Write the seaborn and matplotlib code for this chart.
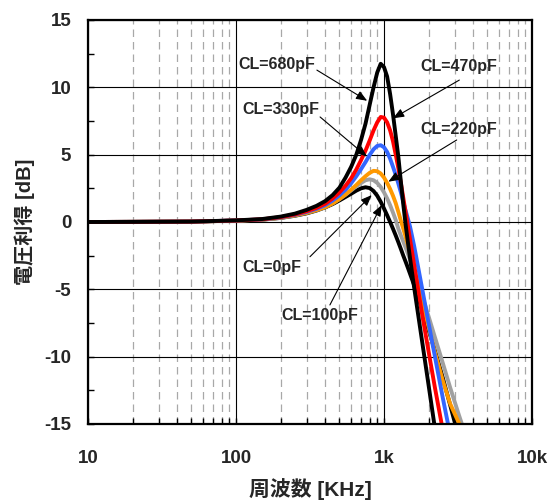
import matplotlib
matplotlib.use("Agg")
import matplotlib.pyplot as plt
from matplotlib.ticker import FixedLocator, NullFormatter
import pandas as pd
import seaborn as sns

# Frequency points (Hz) shared by all curves
freq_hz = [10, 20, 50, 100, 150, 200, 250, 300, 350, 400, 450, 500, 550, 600,
           650, 700, 750, 800, 850, 900, 950, 1000, 1050, 1100, 1150, 1200,
           1250, 1300, 1350, 1400, 1450, 1500, 1600, 1800, 2000, 2200, 2500,
           2800, 3200, 3600]

# Voltage gain (dB) for each load capacitance
gain_0pf = [0.0, 0.01, 0.03, 0.10, 0.17, 0.30, 0.46, 0.64, 0.85, 1.08, 1.33,
            1.60, 1.86, 2.10, 2.33, 2.50, 2.58, 2.52, 2.30, 1.95, 1.50, 1.00,
            0.50, 0.00, -0.50, -1.00, -1.50, -2.00, -2.50, -2.95, -3.40,
            -3.85, -4.70, -6.40, -8.00, -9.50, -11.60, -13.60, -16.00, -18.00]
gain_100pf = [0.0, 0.01, 0.03, 0.10, 0.18, 0.32, 0.49, 0.68, 0.88, 1.10, 1.38,
              1.70, 2.02, 2.35, 2.65, 2.90, 3.10, 3.17, 3.10, 2.90, 2.60,
              2.20, 1.75, 1.25, 0.70, 0.15, -0.50, -1.00, -1.45, -1.90, -2.35,
              -2.80, -3.70, -5.40, -7.00, -8.50, -10.50, -12.30, -14.30, -16.00]
gain_220pf = [0.0, 0.01, 0.03, 0.10, 0.18, 0.32, 0.49, 0.68, 0.88, 1.10, 1.38,
              1.70, 2.05, 2.40, 2.75, 3.10, 3.40, 3.65, 3.80, 3.77, 3.60,
              3.30, 2.90, 2.45, 1.95, 1.40, 0.75, 0.10, -0.50, -1.10, -1.70,
              -2.30, -3.50, -5.80, -7.80, -9.60, -11.80, -13.50, -14.90, -16.80]
gain_330pf = [0.0, 0.01, 0.03, 0.11, 0.19, 0.34, 0.53, 0.75, 0.98, 1.25, 1.60,
              1.98, 2.40, 2.88, 3.40, 3.93, 4.45, 4.98, 5.40, 5.65, 5.70,
              5.55, 5.20, 4.70, 4.10, 3.50, 2.85, 2.20, 1.50, 0.85, 0.25,
              -0.35, -1.80, -4.80, -7.50, -9.90, -13.10, -15.80, -19.00, -22.00]
gain_470pf = [0.0, 0.01, 0.03, 0.11, 0.20, 0.36, 0.56, 0.80, 1.05, 1.35, 1.75,
              2.20, 2.70, 3.25, 3.90, 4.60, 5.30, 6.05, 6.80, 7.40, 7.80,
              7.75, 7.40, 6.80, 6.00, 5.00, 4.00, 2.90, 1.80, 0.70, -0.30,
              -1.30, -3.20, -6.70, -9.60, -12.20, -15.50, -18.50, -22.00, -25.00]
gain_680pf = [0.0, 0.01, 0.03, 0.12, 0.22, 0.40, 0.62, 0.90, 1.20, 1.55, 2.00,
              2.55, 3.30, 4.10, 5.00, 6.10, 7.30, 8.70, 10.00, 11.10, 11.75,
              11.50, 10.80, 9.50, 8.00, 6.40, 4.85, 3.00, 1.30, -0.20, -1.50,
              -2.70, -4.90, -8.70, -12.10, -15.20, -19.00, -22.00, -25.00, -28.00]

series_labels = ["CL=0pF", "CL=100pF", "CL=220pF", "CL=330pF", "CL=470pF", "CL=680pF"]
series_gains = [gain_0pf, gain_100pf, gain_220pf, gain_330pf, gain_470pf, gain_680pf]
line_colors = ["#000000", "#a0a0a0", "#ff9900", "#3366ff", "#ff0000", "#000000"]

x_ticks = [10, 100, 1000, 10000]
x_tick_labels = ["10", "100", "1k", "10k"]
x_minor = [m * d for d in (10, 100, 1000) for m in range(2, 10)]
y_ticks = [-15, -10, -5, 0, 5, 10, 15]
y_minor = [-12.5, -7.5, -2.5, 2.5, 7.5, 12.5]

x_title = "周波数 [KHz]"
y_title = "電圧利得 [dB]"

# Callouts: label, text position, arrow start, arrow tip (Hz, dB)
callouts = [
    ("CL=680pF", (188, 11.73), (352, 11.28), (770, 9.0)),
    ("CL=330pF", (201, 8.39), (370, 7.80), (768, 4.85)),
    ("CL=470pF", (3199, 11.53), (3229, 10.54), (1150, 7.70)),
    ("CL=220pF", (3199, 6.88), (3098, 6.09), (1069, 2.99)),
    ("CL=0pF", (174, -3.41), (316, -2.58), (826, 2.00)),
    ("CL=100pF", (370, -6.96), (431, -6.16), (964, 1.26)),
]

rows = []
for label, gains in zip(series_labels, series_gains):
    for f, g in zip(freq_hz, gains):
        rows.append({"freq": f, "gain": g, "load": label})
df = pd.DataFrame(rows)

sns.set_theme(style="white")
plt.rcParams["font.family"] = ["Liberation Sans", "Noto Sans CJK JP"]
plt.rcParams["font.weight"] = "bold"

fig = plt.figure(figsize=(5.51, 5.01), dpi=100)
ax = fig.add_axes([88 / 551, 1 - 424 / 501, (532 - 88) / 551, (424 - 20) / 501])

sns.lineplot(data=df, x="freq", y="gain", hue="load", hue_order=series_labels,
             palette=dict(zip(series_labels, line_colors)), linewidth=2.8,
             estimator=None, sort=False, legend=False, ax=ax)

ax.set_xscale("log")
ax.set_xlim(10, 10000)
ax.set_ylim(-15, 15)

ax.xaxis.set_major_locator(FixedLocator(x_ticks))
ax.set_xticklabels(x_tick_labels)
ax.xaxis.set_minor_locator(FixedLocator(x_minor))
ax.xaxis.set_minor_formatter(NullFormatter())
ax.yaxis.set_major_locator(FixedLocator(y_ticks))
ax.set_yticklabels([str(v) for v in y_ticks])
ax.yaxis.set_minor_locator(FixedLocator(y_minor))
ax.yaxis.set_minor_formatter(NullFormatter())

ax.set_axisbelow(True)
ax.grid(which="major", color="black", linewidth=0.8)
ax.grid(which="minor", axis="x", color="#a8a8a8", linewidth=0.9, linestyle=(0, (6, 4)))

ax.tick_params(which="major", direction="in", length=4, width=1, labelsize=13.5,
               color="black", left=True, bottom=True)
ax.tick_params(axis="y", which="major", pad=12)
ax.tick_params(axis="x", which="major", pad=19)
ax.tick_params(which="minor", direction="in", length=4, width=1, color="black",
               left=True, bottom=True)
for lbl in ax.get_xticklabels() + ax.get_yticklabels():
    lbl.set_fontweight("bold")

for side, spine in ax.spines.items():
    spine.set_visible(True)
    spine.set_color("black")
    spine.set_linewidth(1.6)

ax.set_xlabel(x_title, fontsize=15, fontweight="bold")
ax.set_ylabel(y_title, fontsize=14.5, fontweight="bold")
ax.xaxis.set_label_coords(0.5, -0.135)
ax.yaxis.set_label_coords(-0.12, 0.5)

for text, pos, start, tip in callouts:
    ax.text(pos[0], pos[1], text, fontsize=11.5, fontweight="bold",
            ha="center", va="center", zorder=6)
    ax.annotate("", xy=tip, xytext=start,
                arrowprops=dict(arrowstyle="-|>,head_length=0.55,head_width=0.22",
                                color="black", lw=0.8, mutation_scale=12,
                                shrinkA=0, shrinkB=0),
                zorder=6)

fig.savefig("out.png", dpi=100)
